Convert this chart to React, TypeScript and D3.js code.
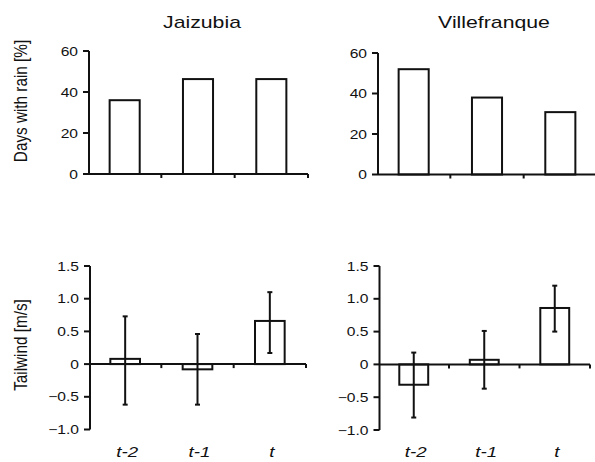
import React from 'react';
import * as d3 from 'd3';

// values
const categories = ['t-2', 't-1', 't'];
const sites = ['Jaizubia', 'Villefranque'];

const rainJaizubia = [36, 46.3, 46.3];
const rainVillefranque = [52, 38, 30.8];

const windJaizubia = [0.08, -0.08, 0.66];
const windJaizubiaLow = [-0.62, -0.62, 0.17];
const windJaizubiaHigh = [0.73, 0.46, 1.1];

const windVillefranque = [-0.31, 0.07, 0.86];
const windVillefranqueLow = [-0.81, -0.37, 0.5];
const windVillefranqueHigh = [0.18, 0.51, 1.2];

const rainTicks = [0, 20, 40, 60];
const windTicks = [-1, -0.5, 0, 0.5, 1, 1.5];

const FONT = 'Liberation Sans, Arial, Helvetica, sans-serif';
// the original figure's text is a bit wider than it is tall
const SX = 1.25;

type Panel = {
  values: number[];
  low?: number[];
  high?: number[];
  x0: number;
  x1: number;
  yTop: number;
  yBottom: number;
  domain: [number, number];
  ticks: number[];
  fmt: (v: number) => string;
  xLabels?: boolean;
};

const fmtWind = (v: number) => (v === 0 ? '0' : d3.format('.1f')(v));

const panels: Panel[] = [
  { values: rainJaizubia, x0: 88, x1: 308, yTop: 51, yBottom: 174, domain: [0, 60], ticks: rainTicks, fmt: d3.format('d') },
  { values: rainVillefranque, x0: 377, x1: 597, yTop: 53, yBottom: 174.5, domain: [0, 60], ticks: rainTicks, fmt: d3.format('d') },
  { values: windJaizubia, low: windJaizubiaLow, high: windJaizubiaHigh, x0: 89, x1: 306, yTop: 266, yBottom: 429.5, domain: [-1, 1.5], ticks: windTicks, fmt: fmtWind, xLabels: true },
  { values: windVillefranque, low: windVillefranqueLow, high: windVillefranqueHigh, x0: 378.5, x1: 590, yTop: 266, yBottom: 430, domain: [-1, 1.5], ticks: windTicks, fmt: fmtWind, xLabels: true },
];

function Label({ x, y, size, anchor = 'middle', italic = false, rotate = 0, sx = SX, children }: any) {
  return (
    <text
      transform={`translate(${x},${y}) scale(${sx},1)` + (rotate ? ` rotate(${rotate})` : '')}
      textAnchor={anchor}
      fontSize={size}
      fontStyle={italic ? 'italic' : 'normal'}
      fontFamily={FONT}
      fill="#111"
    >
      {children}
    </text>
  );
}

function ChartPanel({ p }: { p: Panel }) {
  const x = d3.scaleBand<string>().domain(categories).range([p.x0, p.x1]).paddingInner(0.59).paddingOuter(0.295);
  const y = d3.scaleLinear().domain(p.domain).range([p.yBottom, p.yTop]);
  const step = (p.x1 - p.x0) / categories.length;
  const y0 = y(0);
  const axisX = p.x0 + 1;
  return (
    <g>
      {p.values.map((v, i) => (
        <rect
          key={'b' + i}
          x={x(categories[i])}
          y={Math.min(y(v), y0)}
          width={x.bandwidth()}
          height={Math.abs(y(v) - y0)}
          fill="#fff"
          stroke="#111"
          strokeWidth={2}
        />
      ))}
      {p.low &&
        p.values.map((v, i) => {
          const cx = (x(categories[i]) as number) + x.bandwidth() / 2;
          return (
            <g key={'e' + i} stroke="#111" strokeWidth={2}>
              <line x1={cx} x2={cx} y1={y(p.high![i])} y2={y(p.low![i])} />
              <line x1={cx - 2.5} x2={cx + 2.5} y1={y(p.high![i])} y2={y(p.high![i])} />
              <line x1={cx - 2.5} x2={cx + 2.5} y1={y(p.low![i])} y2={y(p.low![i])} />
            </g>
          );
        })}
      {/* x axis */}
      <line x1={axisX} x2={p.x1} y1={y0} y2={y0} stroke="#111" strokeWidth={2} />
      {categories.map((c, i) => (
        <line key={'xt' + i} x1={p.x0 + step * (i + 1)} x2={p.x0 + step * (i + 1)} y1={y0} y2={y0 + 4} stroke="#111" strokeWidth={2} />
      ))}
      {/* y axis */}
      <line x1={axisX} x2={axisX} y1={p.yTop} y2={p.yBottom} stroke="#111" strokeWidth={2} />
      {p.ticks.map((t) => (
        <g key={'yt' + t}>
          <line x1={axisX - 6} x2={axisX} y1={y(t)} y2={y(t)} stroke="#111" strokeWidth={2} />
          <Label x={axisX - 11} y={y(t) + 4.5} size={12.5} anchor="end">
            {p.fmt(t)}
          </Label>
        </g>
      ))}
      {p.xLabels &&
        categories.map((c) => (
          <Label key={'xl' + c} x={(x(c) as number) + x.bandwidth() / 2 + 2} y={457} size={15} italic>
            {c}
          </Label>
        ))}
    </g>
  );
}

export default function App() {
  return (
    <svg width={595} height={462} style={{ position: 'absolute', left: 0, top: 0, background: '#fff' }}>
      <rect width={595} height={462} fill="#fff" />
      <Label x={202} y={27.5} size={17}>
        {sites[0]}
      </Label>
      <Label x={494} y={27.5} size={17}>
        {sites[1]}
      </Label>
      <Label x={27} y={101} size={15.3} rotate={-90} sx={1.15}>
        Days with rain [%]
      </Label>
      <Label x={27} y={345} size={15.3} rotate={-90} sx={1.15}>
        Tailwind [m/s]
      </Label>
      {panels.map((p, i) => (
        <ChartPanel key={i} p={p} />
      ))}
    </svg>
  );
}
